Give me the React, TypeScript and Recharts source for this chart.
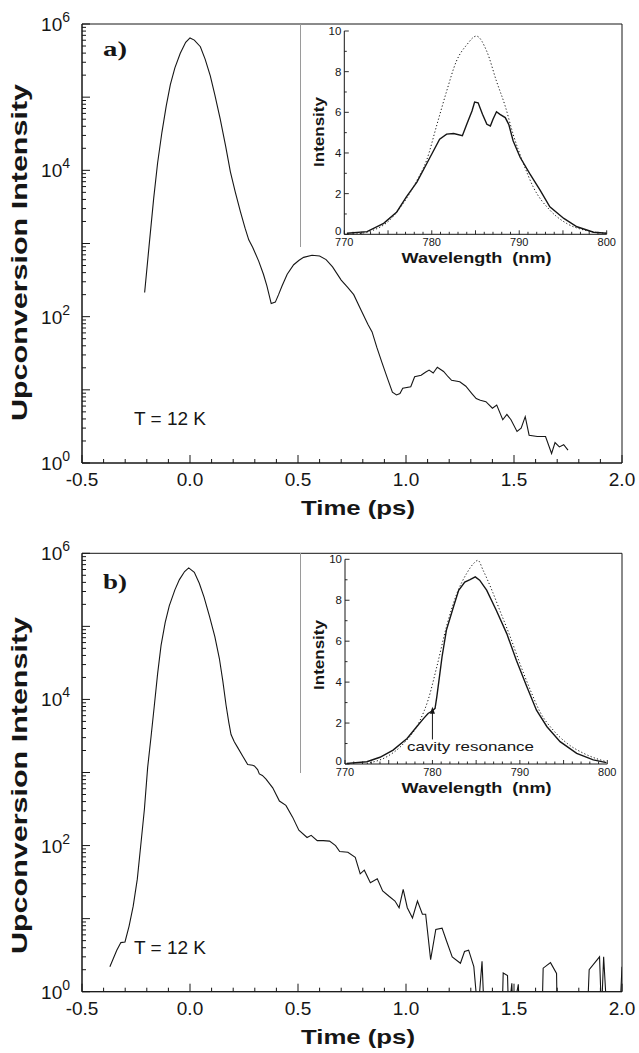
import React from 'react';
import {
  LineChart,
  Line,
  XAxis,
  YAxis,
  ReferenceArea,
  ReferenceLine,
  ReferenceDot,
  Label,
  Customized,
} from 'recharts';

const INK = '#161616';
const SANS = "'Liberation Sans', Arial, Helvetica, sans-serif";
const SERIF = "'Liberation Serif', 'Times New Roman', serif";

// ---- Panel a) main trace: [time (ps), upconversion intensity]
const traceA: [number, number][] = [
  [-0.21, 214], [-0.19, 891], [-0.168, 4169], [-0.15, 12590], [-0.13, 33110],
  [-0.11, 75860], [-0.091, 147900], [-0.07, 251200], [-0.045, 398100], [-0.02, 562300],
  [0.0, 645700], [0.02, 602600], [0.048, 489800], [0.07, 331100], [0.094, 195000],
  [0.115, 107200], [0.14, 50120], [0.165, 21380], [0.187, 9550], [0.21, 5012],
  [0.233, 2754], [0.255, 1622], [0.272, 1122], [0.29, 891], [0.318, 575],
  [0.34, 380], [0.356, 263], [0.376, 151], [0.395, 158], [0.41, 200],
  [0.426, 263], [0.45, 380], [0.48, 513], [0.505, 589], [0.526, 646],
  [0.565, 692], [0.6, 676], [0.63, 603], [0.66, 479], [0.7, 316],
  [0.73, 251], [0.758, 200], [0.79, 126], [0.824, 78], [0.843, 62],
  [0.865, 38], [0.89, 23], [0.915, 14.1], [0.937, 9.3], [0.956, 8.5],
  [0.972, 8.9], [0.985, 10.5], [1.022, 11], [1.04, 15.1], [1.07, 15.8],
  [1.09, 17.4], [1.107, 18.6], [1.126, 17], [1.145, 20.4], [1.174, 17.8],
  [1.195, 15.1], [1.211, 13.5], [1.249, 12.9], [1.277, 11.2], [1.305, 8.9],
  [1.325, 7.6], [1.344, 7.2], [1.37, 6.9], [1.4, 5.6], [1.42, 6.2],
  [1.448, 3.9], [1.467, 4.6], [1.486, 3.9], [1.514, 2.7], [1.533, 3.0],
  [1.552, 4.3], [1.57, 2.4], [1.608, 2.3], [1.646, 2.3], [1.674, 1.35],
  [1.69, 1.9], [1.71, 1.66], [1.73, 1.78], [1.75, 1.5],
];

// ---- Panel b) main trace
const traceB: [number, number][] = [
  [-0.371, 2.2], [-0.339, 3.7], [-0.32, 4.7], [-0.301, 4.8], [-0.282, 7.9],
  [-0.263, 14.8], [-0.244, 34.7], [-0.225, 123], [-0.211, 316], [-0.196, 1175],
  [-0.18, 3162], [-0.165, 8318], [-0.15, 22390], [-0.134, 54950], [-0.115, 112200],
  [-0.096, 190500], [-0.07, 316200], [-0.049, 436500], [-0.025, 562300], [-0.006, 631000],
  [0.02, 549500], [0.043, 389000], [0.065, 251200], [0.09, 138000], [0.115, 72440],
  [0.136, 36310], [0.152, 17780], [0.167, 8318], [0.18, 4786], [0.19, 3311],
  [0.205, 2630], [0.221, 2188], [0.245, 1660], [0.267, 1288], [0.29, 1259],
  [0.298, 1230], [0.313, 1096], [0.321, 955], [0.335, 912], [0.352, 813],
  [0.383, 617], [0.414, 407], [0.444, 355], [0.475, 245], [0.504, 162],
  [0.542, 129], [0.561, 138], [0.589, 117], [0.617, 117], [0.646, 115],
  [0.674, 100], [0.693, 83], [0.731, 81], [0.765, 69], [0.788, 41],
  [0.807, 46], [0.835, 31], [0.867, 35], [0.892, 24], [0.92, 20.4],
  [0.949, 17.4], [0.968, 14.1], [0.987, 25.1], [1.006, 14.1], [1.03, 10.2],
  [1.053, 17.4], [1.076, 11.5], [1.091, 11.5], [1.114, 2.75], [1.138, 7.1],
  [1.167, 7.4], [1.186, 5.1], [1.214, 3.0], [1.252, 2.45], [1.271, 3.55],
  [1.29, 3.7], [1.314, 2.2], [1.333, 0.5], [1.352, 2.6], [1.362, 0.5],
  [1.4, 0.5], [1.445, 0.5], [1.45, 1.8], [1.47, 1.66], [1.475, 0.5],
  [1.49, 1.3], [1.495, 0.5], [1.52, 1.26], [1.525, 0.5], [1.63, 0.5],
  [1.635, 2.1], [1.669, 2.5], [1.697, 1.78], [1.7, 0.5], [1.84, 0.5],
  [1.848, 2.0], [1.896, 3.0], [1.905, 0.5], [1.915, 3.0], [1.93, 0.5],
  [1.99, 0.5], [2.0, 2.2],
];

// ---- Inset a): [wavelength (nm), intensity]
const insetASolid: [number, number][] = [
  [770.3, 0.05], [772.6, 0.13], [774.5, 0.54], [776.0, 1.1], [777.1, 1.84],
  [778.3, 2.57], [779.4, 3.46], [780.2, 4.11], [780.9, 4.68], [781.7, 4.93],
  [782.5, 4.96], [783.5, 4.85], [784.0, 5.41], [784.6, 6.07], [784.9, 6.5],
  [785.3, 6.47], [785.8, 5.9], [786.3, 5.41], [786.7, 5.33], [787.0, 5.66],
  [787.4, 6.03], [787.8, 5.9], [788.4, 5.74], [788.8, 5.41], [789.3, 4.6],
  [790.1, 3.79], [791.2, 2.98], [792.4, 2.16], [793.5, 1.35], [795.1, 0.78],
  [796.6, 0.37], [798.5, 0.1], [800.0, 0.05],
];
const insetADotted: [number, number][] = [
  [771.0, 0.0], [773.3, 0.2], [775.2, 0.7], [776.7, 1.5], [778.3, 2.65],
  [779.4, 3.63], [780.6, 5.41], [781.7, 7.04], [782.8, 8.5], [784.0, 9.32],
  [785.1, 9.75], [786.3, 8.99], [787.4, 7.53], [788.4, 6.3], [789.3, 4.93],
  [790.5, 3.46], [791.6, 2.33], [793.5, 1.19], [795.4, 0.54], [797.7, 0.18],
  [800.0, 0.05],
];

// ---- Inset b)
const insetBSolid: [number, number][] = [
  [770.2, 0.03], [772.5, 0.11], [774.0, 0.33], [775.5, 0.68], [777.1, 1.25],
  [778.2, 1.82], [779.0, 2.23], [779.5, 2.47], [780.0, 2.6], [780.3, 2.72],
  [780.5, 3.28], [780.8, 4.26], [781.1, 5.24], [781.6, 6.54], [782.4, 7.67],
  [783.0, 8.49], [783.7, 8.89], [784.3, 9.01], [784.9, 9.14], [785.4, 8.98],
  [786.2, 8.49], [787.3, 7.51], [788.5, 6.37], [789.6, 5.07], [790.8, 3.77],
  [791.9, 2.63], [793.1, 1.82], [794.6, 1.09], [796.5, 0.52], [798.4, 0.2],
  [799.9, 0.07],
];
const insetBDotted: [number, number][] = [
  [772.5, 0.03], [774.8, 0.36], [776.7, 1.0], [778.6, 2.15], [779.5, 3.12],
  [780.5, 4.75], [781.6, 6.7], [782.8, 8.33], [783.9, 9.3], [784.7, 9.79],
  [785.2, 9.95], [785.8, 9.46], [786.8, 8.49], [787.7, 7.51], [788.9, 6.21],
  [790.0, 4.91], [791.2, 3.61], [792.3, 2.55], [793.8, 1.66], [795.4, 1.01],
  [797.3, 0.52], [799.9, 0.11],
];

// ---- Axis ticks
const TIME_TICKS = [
  -0.5, -0.4, -0.3, -0.2, -0.1, 0, 0.1, 0.2, 0.3, 0.4, 0.5, 0.6, 0.7, 0.8, 0.9,
  1.0, 1.1, 1.2, 1.3, 1.4, 1.5, 1.6, 1.7, 1.8, 1.9, 2.0,
];
const DECADES = [1, 10, 100, 1000, 10000, 100000];
const MANTISSAS = [1, 2, 3, 4, 5, 6, 7, 8, 9];
const LOG_TICKS = [...DECADES.flatMap((d) => MANTISSAS.map((m) => m * d)), 1000000];
const LOG_LABELED_EXPONENTS = [0, 2, 4, 6];
const WL_TICKS = [
  770, 771, 772, 773, 774, 775, 776, 777, 778, 779, 780, 781, 782, 783, 784, 785,
  786, 787, 788, 789, 790, 791, 792, 793, 794, 795, 796, 797, 798, 799, 800,
];
const WL_LABELS = [770, 780, 790, 800];
const INT_TICKS = [0, 1, 2, 3, 4, 5, 6, 7, 8, 9, 10];
const INT_LABELS = [0, 2, 4, 6, 8, 10];

const toRows = (pairs: [number, number][]) => pairs.map(([x, y]) => ({ x, y }));

// ---- Tick renderers
const MainXTick = (props: any) => {
  const { x, y, payload } = props;
  const v = payload.value as number;
  const major = Math.abs(v * 2 - Math.round(v * 2)) < 1e-6;
  return (
    <g>
      <line x1={x} x2={x} y1={y} y2={y - (major ? 8 : 4)} stroke={INK} strokeWidth={1} />
      {major && (
        <text x={x} y={y + 23} textAnchor="middle" fontSize={19} fontFamily={SANS} fill={INK}>
          {v.toFixed(1)}
        </text>
      )}
    </g>
  );
};

const MainYTick = (props: any) => {
  const { x, y, payload } = props;
  const v = payload.value as number;
  const e = Math.log10(v);
  const decade = Math.abs(e - Math.round(e)) < 1e-9;
  const n = Math.round(e);
  return (
    <g>
      <line x1={x} x2={x + (decade ? 8 : 4)} y1={y} y2={y} stroke={INK} strokeWidth={1} />
      {decade && LOG_LABELED_EXPONENTS.includes(n) && (
        <text x={x - 12} y={y + 7} textAnchor="end" fontSize={19} fontFamily={SANS} fill={INK}>
          10
          <tspan dy={-9} fontSize={14}>
            {n}
          </tspan>
        </text>
      )}
    </g>
  );
};

const InsetXTick = (props: any) => {
  const { x, y, payload } = props;
  const v = payload.value as number;
  const major = v % 5 === 0;
  return (
    <g>
      <line x1={x} x2={x} y1={y} y2={y - (major ? 4 : 2.5)} stroke={INK} strokeWidth={0.9} />
      {WL_LABELS.includes(v) && (
        <text x={x} y={y + 11.5} textAnchor="middle" fontSize={11} fontFamily={SANS} fill={INK}>
          {v}
        </text>
      )}
    </g>
  );
};

const InsetYTick = (props: any) => {
  const { x, y, payload } = props;
  const v = payload.value as number;
  const major = INT_LABELS.includes(v);
  return (
    <g>
      <line x1={x} x2={x + (major ? 4.5 : 2.5)} y1={y} y2={y} stroke={INK} strokeWidth={0.9} />
      {major && (
        <text x={x - 3} y={y + (v === 0 ? 1 : 4)} textAnchor="end" fontSize={11.5} fontFamily={SANS} fill={INK}>
          {v}
        </text>
      )}
    </g>
  );
};

// ---- Main panel
type MainProps = {
  rows: { x: number; y: number }[];
  width: number;
  height: number;
  plotTop: number;
  plotBottom: number;
  tag: string;
  tagBaseline: number;
  titleShift: number;
};

const PLOT_LEFT = 82;
const PLOT_RIGHT = 622;

function MainPanel({ rows, width, height, plotTop, plotBottom, tag, tagBaseline, titleShift }: MainProps) {
  const titleCy = (plotTop + plotBottom) / 2 + titleShift;
  const yTitleLen = 337;
  const xTitleLen = 114;
  const xTitleCx = 358;
  return (
    <LineChart
      width={width}
      height={height}
      margin={{ top: plotTop, right: width - PLOT_RIGHT, bottom: 0, left: 0 }}
    >
      <XAxis
        type="number"
        dataKey="x"
        domain={[-0.5, 2]}
        allowDataOverflow
        ticks={TIME_TICKS}
        interval={0}
        tick={<MainXTick />}
        tickLine={false}
        tickSize={0}
        tickMargin={0}
        axisLine={{ stroke: INK, strokeWidth: 1 }}
        height={height - plotBottom}
      >
        <Label
          content={() => (
            <text
              x={xTitleCx - xTitleLen / 2}
              y={plotBottom + 52}
              fontSize={21}
              fontWeight="bold"
              fontFamily={SANS}
              fill={INK}
              textLength={xTitleLen}
              lengthAdjust="spacingAndGlyphs"
            >
              Time (ps)
            </text>
          )}
        />
      </XAxis>
      <YAxis
        type="number"
        dataKey="y"
        scale="log"
        domain={[1, 1000000]}
        allowDataOverflow
        ticks={LOG_TICKS}
        interval={0}
        tick={<MainYTick />}
        tickLine={false}
        tickSize={0}
        tickMargin={0}
        axisLine={{ stroke: INK, strokeWidth: 1 }}
        width={PLOT_LEFT}
      >
        <Label
          content={() => (
            <text
              transform={`translate(27, ${titleCy}) rotate(-90)`}
              x={-yTitleLen / 2}
              y={0}
              fontSize={22}
              fontWeight="bold"
              fontFamily={SANS}
              fill={INK}
              textLength={yTitleLen}
              lengthAdjust="spacingAndGlyphs"
            >
              Upconversion Intensity
            </text>
          )}
        />
      </YAxis>
      <ReferenceArea
        x1={-0.5}
        x2={2}
        y1={1}
        y2={1000000}
        fill="none"
        stroke={INK}
        strokeWidth={1}
        ifOverflow="visible"
      />
      <Line
        data={rows}
        dataKey="y"
        type="linear"
        stroke={INK}
        strokeWidth={1.1}
        dot={false}
        isAnimationActive={false}
      />
      <Customized
        component={() => (
          <g>
            <text
              x={103}
              y={tagBaseline}
              fontSize={22}
              fontWeight="bold"
              fontFamily={SERIF}
              fill={INK}
              textLength={24}
              lengthAdjust="spacingAndGlyphs"
            >
              {tag}
            </text>
            <text
              x={134}
              y={plotBottom - 38}
              fontSize={18}
              fontFamily={SANS}
              fill={INK}
              textLength={72}
              lengthAdjust="spacingAndGlyphs"
            >
              T = 12 K
            </text>
          </g>
        )}
      />
    </LineChart>
  );
}

// ---- Inset
type InsetProps = {
  solid: { x: number; y: number }[];
  dotted: { x: number; y: number }[];
  plotTop: number;
  plotBottom: number;
  plotLeft: number;
  plotRight: number;
  labelCy: number;
  annotate?: boolean;
};

const INSET_W = 330;
const INSET_H = 262;

function InsetPanel({ solid, dotted, plotTop, plotBottom, plotLeft, plotRight, labelCy, annotate }: InsetProps) {
  const wlLen = 150;
  const intLen = 70;
  return (
    <LineChart
      width={INSET_W}
      height={INSET_H}
      margin={{ top: plotTop, right: INSET_W - plotRight, bottom: 0, left: 0 }}
    >
      <XAxis
        type="number"
        dataKey="x"
        domain={[770, 800]}
        allowDataOverflow
        ticks={WL_TICKS}
        interval={0}
        tick={<InsetXTick />}
        tickLine={false}
        tickSize={0}
        tickMargin={0}
        axisLine={{ stroke: INK, strokeWidth: 1 }}
        height={INSET_H - plotBottom}
      >
        <Label
          content={() => (
            <text
              x={176.5 - wlLen / 2}
              y={plotBottom + 28.5}
              fontSize={14.5}
              fontWeight="bold"
              fontFamily={SANS}
              fill={INK}
              textLength={wlLen}
              lengthAdjust="spacingAndGlyphs"
              style={{ whiteSpace: 'pre' }}
            >
              {'Wavelength  (nm)'}
            </text>
          )}
        />
      </XAxis>
      <YAxis
        type="number"
        dataKey="y"
        domain={[0, 10]}
        allowDataOverflow
        ticks={INT_TICKS}
        interval={0}
        tick={<InsetYTick />}
        tickLine={false}
        tickSize={0}
        tickMargin={0}
        axisLine={{ stroke: INK, strokeWidth: 1 }}
        width={plotLeft}
      >
        <Label
          content={() => (
            <text
              transform={`translate(24, ${labelCy}) rotate(-90)`}
              x={-intLen / 2}
              y={0}
              fontSize={14}
              fontWeight="bold"
              fontFamily={SANS}
              fill={INK}
              textLength={intLen}
              lengthAdjust="spacingAndGlyphs"
            >
              Intensity
            </text>
          )}
        />
      </YAxis>
      <Line
        data={dotted}
        dataKey="y"
        type="monotone"
        stroke={INK}
        strokeWidth={1}
        strokeDasharray="1.2 2.2"
        dot={false}
        isAnimationActive={false}
      />
      <Line
        data={solid}
        dataKey="y"
        type="linear"
        stroke={INK}
        strokeWidth={1.4}
        dot={false}
        isAnimationActive={false}
      />
      {annotate && (
        <ReferenceLine
          segment={[
            { x: 780, y: 1.2 },
            { x: 780, y: 2.5 },
          ]}
          stroke={INK}
          strokeWidth={1}
        />
      )}
      {annotate && (
        <ReferenceDot
          x={780}
          y={2.8}
          r={0}
          shape={(p: any) => (
            <path d={`M${p.cx},${p.cy} l-2.5,7 l5,0 z`} fill={INK} stroke="none" />
          )}
        />
      )}
      {annotate && (
        <Customized
          component={() => (
            <text
              x={107}
              y={203}
              fontSize={13}
              fontFamily={SANS}
              fill={INK}
              textLength={127}
              lengthAdjust="spacingAndGlyphs"
            >
              cavity resonance
            </text>
          )}
        />
      )}
    </LineChart>
  );
}

export default function App() {
  const rowsA = toRows(traceA);
  const rowsB = toRows(traceB);
  return (
    <div
      style={{
        position: 'absolute',
        left: 0,
        top: 0,
        width: 639,
        height: 1053,
        background: '#fff',
        overflow: 'hidden',
      }}
    >
      <div style={{ position: 'absolute', left: 0, top: 0 }}>
        <MainPanel rows={rowsA} width={639} height={527} plotTop={24} plotBottom={463} tag="a)" tagBaseline={56} titleShift={9} />
      </div>
      <div style={{ position: 'absolute', left: 0, top: 527 }}>
        <MainPanel rows={rowsB} width={639} height={526} plotTop={26.3} plotBottom={464.7} tag="b)" tagBaseline={62} titleShift={13} />
      </div>
      {/* inset frames (left edge) */}
      <div style={{ position: 'absolute', left: 300, top: 24, width: 0, height: 223, borderLeft: '1px solid #9a9a9a' }} />
      <div style={{ position: 'absolute', left: 300, top: 553, width: 0, height: 220, borderLeft: '1px solid #9a9a9a' }} />
      <div style={{ position: 'absolute', left: 300, top: 20 }}>
        <InsetPanel
          solid={toRows(insetASolid)}
          dotted={toRows(insetADotted)}
          plotTop={11}
          plotBottom={214.3}
          plotLeft={44.3}
          plotRight={306.7}
          labelCy={112}
        />
      </div>
      <div style={{ position: 'absolute', left: 300, top: 548 }}>
        <InsetPanel
          solid={toRows(insetBSolid)}
          dotted={toRows(insetBDotted)}
          plotTop={11.3}
          plotBottom={216}
          plotLeft={45}
          plotRight={307.3}
          labelCy={107}
          annotate
        />
      </div>
    </div>
  );
}
